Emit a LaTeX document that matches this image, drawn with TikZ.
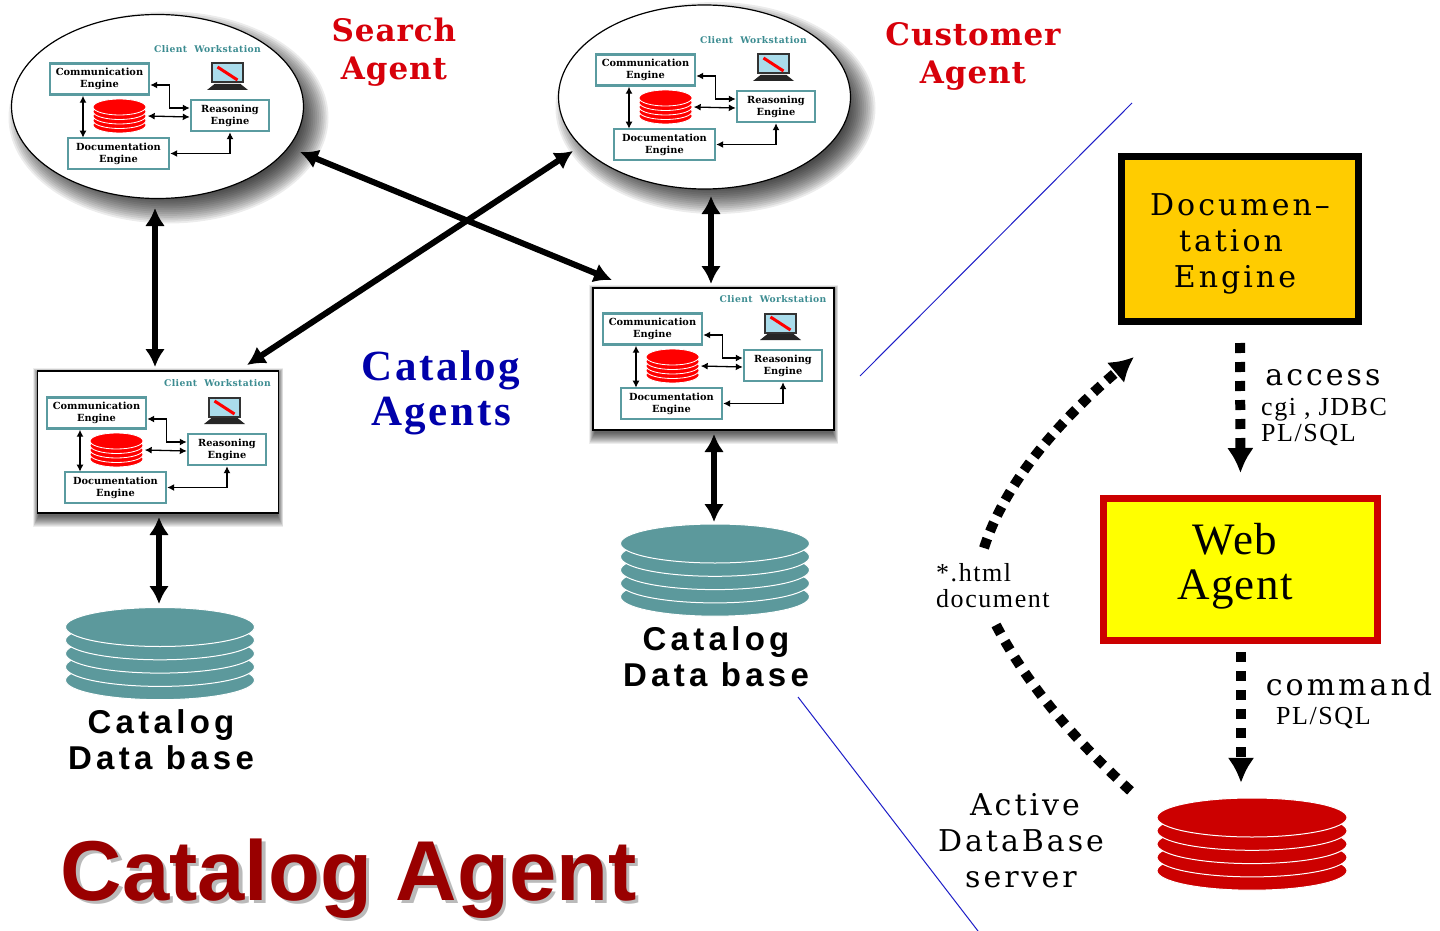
\documentclass[tikz,border=0pt]{standalone}
\usepackage{fontspec}
\usetikzlibrary{calc,arrows.meta,shapes.geometric}
\setmainfont{Liberation Serif}
\newfontfamily\slab{DejaVu Serif}
\newfontfamily\slabwide[LetterSpace=10]{DejaVu Serif}
\newfontfamily\slabred[LetterSpace=3]{DejaVu Serif}
\newfontfamily\slabcap[LetterSpace=4]{DejaVu Serif}
\newfontfamily\notefont[LetterSpace=6]{Liberation Serif}
\newfontfamily\blueserif[LetterSpace=6]{Liberation Serif}
\newfontfamily\webfont[LetterSpace=3]{Liberation Serif}
\newfontfamily\sanswide[LetterSpace=13]{Liberation Sans}
\newfontfamily\sansplain{Liberation Sans}
\definecolor{wteal}{RGB}{90,155,160}
\definecolor{capteal}{RGB}{60,140,145}
\definecolor{dbteal}{RGB}{92,153,156}
\definecolor{dbred}{RGB}{204,0,0}
\definecolor{brightred}{RGB}{255,0,0}
\definecolor{titlered}{RGB}{153,0,0}
\definecolor{labelred}{RGB}{215,0,10}
\definecolor{catblue}{RGB}{0,0,170}
\definecolor{lineblue}{RGB}{30,30,200}
\definecolor{engorange}{RGB}{255,204,0}
\definecolor{webyellow}{RGB}{255,255,0}
\definecolor{screenblue}{RGB}{170,220,235}
\tikzset{
 ebox/.style={draw=wteal,line width=2.4pt,fill=white,align=center,inner sep=0pt,
   font=\slab\bfseries\fontsize{9.8}{12}\selectfont},
 tinyarrow/.style={{Latex[length=7pt,width=7pt]}-{Latex[length=7pt,width=7pt]},line width=1.3pt},
 bigarrow/.style={{Latex[length=18pt,width=20pt]}-{Latex[length=18pt,width=20pt]},line width=6pt},
 blueline/.style={draw=lineblue,line width=1pt},
 dotarrow/.style={-{Latex[length=25pt,width=27pt]},line width=10pt,dash pattern=on 10pt off 9pt},
 dotcurvehead/.style={-{Latex[length=24pt,width=27pt]},line width=10pt,dash pattern=on 10pt off 7.5pt},
 dotcurve/.style={line width=10pt,dash pattern=on 10pt off 8.6pt},
 rlabel/.style={font=\slabred\bfseries\fontsize{31}{38}\selectfont,text=labelred,align=center},
 blabel/.style={font=\blueserif\bfseries\fontsize{43}{45}\selectfont,text=catblue,align=center},
 dblabel/.style={font=\sanswide\bfseries\fontsize{33}{36}\selectfont,align=center,text=black},
 slabtext/.style={font=\slabwide\fontsize{30}{36}\selectfont,align=center},
 weblabel/.style={font=\webfont\fontsize{45}{45}\selectfont,align=center},
 notetext/.style={font=\notefont\fontsize{26}{26}\selectfont,align=left,anchor=west,inner sep=0pt},
 titletext/.style={font=\sansplain\bfseries\fontsize{85}{90}\selectfont,anchor=base west,inner sep=0pt},
 pics/stack/.style n args={5}{code={
   \foreach \i in {4,3,2,1,0}{
     \fill[#4,draw=white,line width=#5] (0,\i*#3) ellipse [x radius=#1,y radius=#2];}
 }},
 pics/ws/.style={code={
   \node[font=\slabcap\bfseries\fontsize{9.2}{9}\selectfont,text=capteal] (cap) at (#1,-56) {Client\ \ Workstation};
   \node[ebox,minimum width=99pt,minimum height=31pt] (comm) at (50,-26) {Communication\\Engine};
   \node[ebox,minimum width=78pt,minimum height=31pt] (reas) at (180.5,10.5) {Reasoning\\Engine};
   \node[ebox,minimum width=101pt,minimum height=31pt] (docu) at (69,48.5) {Documentation\\Engine};
   \node[inner sep=0pt,minimum width=54pt,minimum height=35pt] (dbs) at (70,11) {};
   \pic at (70,2) {stack={26.5}{8}{4.5}{brightred}{.8pt}};
   \node[draw=black!80,fill=screenblue,line width=2pt,minimum width=31pt,minimum height=19pt,inner sep=0pt] (lap) at (178,-32) {};
   \fill[black!85] (165,-21) -- (191,-21) -- (198.5,-15) -- (157.5,-15) -- cycle;
   \draw[brightred,line width=3pt] ($(lap.center)+(-10,-6)$) -- ($(lap.center)+(10,7)$);
   \draw[tinyarrow] ($(comm.east)+(0,6)$) -- ++(19,0) |- ($(reas.west)+(0,-7.5)$);
   \draw[tinyarrow] ($(dbs.east)+(1,0)$) -- ($(reas.west)+(0,1.5)$);
   \draw[tinyarrow] (docu.east) -| (reas.south);
   \draw[tinyarrow] ($(comm.south)+(-16.5,0)$) -- ($(comm.south)+(-16.5,42)$);
 }}
}
\begin{document}
\begin{tikzpicture}[x=1pt,y=-1pt]
\useasboundingbox (0,0) rectangle (1440,931);
\fill[white] (0,0) rectangle (1440,931);

% soft shadows
\foreach \k in {0,...,14}{
  \fill[black,opacity=.075] (168.5,117.5) ellipse [x radius=160-1.9*\k,y radius=106-1.9*\k];
  \fill[black,opacity=.075] (715.5,108) ellipse [x radius=160-1.9*\k,y radius=106-1.9*\k];
}
\foreach \k in {0,...,11}{
  \fill[black,opacity=.07] (33+.5*\k,368+.5*\k) rectangle (283-.5*\k,527-1*\k);
  \fill[black,opacity=.07] (589+.5*\k,285+.5*\k) rectangle (838-.5*\k,444-1*\k);
}

% workstations
\node[draw=black,fill=white,ellipse,line width=1.2pt,inner sep=0pt,minimum width=292pt,minimum height=184pt] (e1) at (157.5,106.5) {};
\node[draw=black,fill=white,ellipse,line width=1.2pt,inner sep=0pt,minimum width=292pt,minimum height=184pt] (e2) at (704.5,97) {};
\node[draw=black,fill=white,line width=1.2pt,inner sep=0pt,minimum width=241pt,minimum height=142pt] (b2) at (158,442) {};
\node[draw=black,fill=white,line width=1.2pt,inner sep=0pt,minimum width=241pt,minimum height=142pt] (b3) at (713.5,359) {};
\pic (p1) at (49.5,105) {ws=158};
\pic (p2) at (595.5,96) {ws=158};
\pic (p3) at (46.5,439) {ws=171};
\pic (p4) at (602.5,355) {ws=170.5};

% databases
\node[inner sep=0pt,minimum width=188pt,minimum height=92pt] (dbL) at (160,653) {};
\node[inner sep=0pt,minimum width=188pt,minimum height=92pt] (dbM) at (715,570) {};
\node[inner sep=0pt,minimum width=188pt,minimum height=92pt] (dbR) at (1252,844) {};
\pic at (160,627) {stack={94.5}{19.5}{13.3}{dbteal}{1pt}};
\pic at (715,543.5) {stack={94.5}{19.5}{13.3}{dbteal}{1pt}};
\pic at (1252,817.5) {stack={95}{19.5}{13.3}{dbred}{1pt}};

% big arrows
\draw[bigarrow] ($(e1.center)+(-2.5,101.5)$) -- ($(b2.center)+(-3,-75)$);
\draw[bigarrow] ($(e1.center)+(142.5,45.5)$) -- ($(b3.center)+(-101.5,-79)$);
\draw[bigarrow] ($(e2.center)+(-131.5,54)$) -- ($(b2.center)+(89,-77)$);
\draw[bigarrow] ($(e2.center)+(6.5,99)$) -- ($(b3.center)+(-2.5,-75)$);
\draw[bigarrow] ($(b2.center)+(1,75)$) -- ($(dbL.center)+(-1,-49)$);
\draw[bigarrow] ($(b3.center)+(.5,75)$) -- ($(dbM.center)+(-1,-48)$);

% labels
\node[rlabel] (lsearch) at (394,52) {Search\\Agent};
\node[rlabel] (lcust) at (973,56.5) {Customer\\Agent};
\node[blabel] (lcat) at (441,393) {Catalog\\Agents};
\node[dblabel] (ldbL) at (161,740) {Catalog\\Data base};
\node[dblabel] (ldbM) at (716,657) {Catalog\\Data base};
\node[titletext,text=black!27] (titleshadow) at (64,903.5) {Catalog Agent};
\node[titletext,text=titlered] (title) at (60.5,900) {Catalog Agent};

% blue lines
\coordinate (l1a) at (860,376);
\coordinate (l1b) at (1132,103);
\coordinate (l2a) at (798,697);
\coordinate (l2b) at (978,931);
\draw[blueline] (l1a) -- (l1b);
\draw[blueline] (l2a) -- (l2b);

% right side
\node[draw=black,fill=engorange,line width=7pt,inner sep=0pt,minimum width=237pt,minimum height=165pt,outer sep=3.5pt] (doc) at (1240,239) {};
\node[slabtext] (doctext) at (1240,244) {Documen–\\\hspace*{-18pt}tation\\\hspace*{-10pt}Engine};
\node[draw=dbred,fill=webyellow,line width=7pt,inner sep=0pt,minimum width=274pt,minimum height=142pt,outer sep=3.5pt] (web) at (1240.5,569.5) {};
\node[weblabel] (webtext) at (1235,566) {Web\\Agent};
\draw[dotarrow,shorten <=18pt,shorten >=22pt] (doc.south) -- (web.north);
\draw[dotarrow,shorten <=8pt,shorten >=15pt] ($(web.south)+(.5,0)$) -- ($(dbR.north)+(-11,0)$);
\node[slabtext] (access) at (1323,378) {access};
\node[notetext] (cgi) at (1261,422) {cgi , JDBC\\PL/SQL};
\node[slabtext] (command) at (1349,684) {command};
\node[notetext] (plsql) at (1276,718) {PL/SQL};
\node[notetext] (html) at (936,586) {*.html\\document};
\node[slabtext] (active) at (1021,841) {\hspace*{8pt}Active\\DataBase\\server};
\coordinate (c1a) at (984,548);
\coordinate (c1b) at (1134,357);
\coordinate (c2a) at (996,625);
\coordinate (c2b) at (1135,795);
\draw[dotcurvehead] (c1a) .. controls (1005,482) and (1060,420) .. (c1b);
\draw[dotcurve] (c2a) .. controls (1030,690) and (1080,745) .. (c2b);
\end{tikzpicture}
\end{document}
